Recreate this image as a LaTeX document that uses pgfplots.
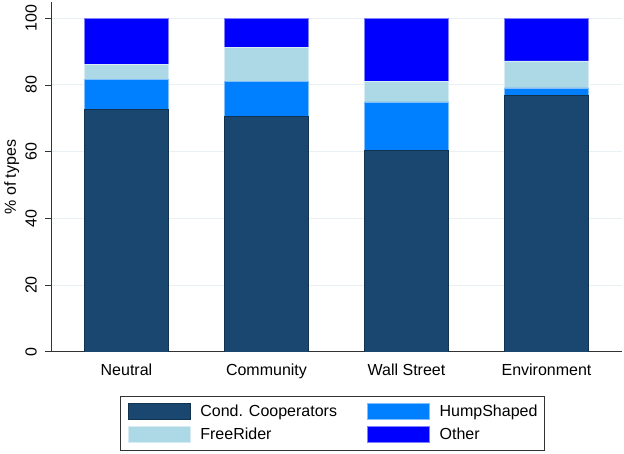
\documentclass[border=0pt]{standalone}
\usepackage{fontspec}
\setmainfont{Liberation Sans}
\usepackage{pgfplots}
\pgfplotsset{compat=1.18}
\definecolor{ccoop}{HTML}{1A476F}
\definecolor{hump}{HTML}{0080FF}
\definecolor{free}{HTML}{ADD8E6}
\definecolor{other}{HTML}{0000FF}
\definecolor{gridc}{HTML}{E9F0F3}
\definecolor{axc}{HTML}{333333}
\pgfplotsset{mylegend/.style={legend image code/.code={\draw[##1,line width=0.6pt] (0pt,-8pt) rectangle (62pt,8pt);}}}
\begin{document}
\begin{tikzpicture}
\useasboundingbox (0,0) rectangle (624pt,453pt);
\begin{axis}[
 at={(51pt,101.2pt)}, anchor=south west,
 scale only axis, width=570.7pt, height=349.3pt,
 ybar stacked, bar width=84.4pt,
 xmin=-0.539, xmax=3.537, ymin=0, ymax=104.7,
 axis lines=left, axis line style={-, axc, line width=0.8pt},
 xtick={0,1,2,3}, xticklabels={Neutral,Community,Wall Street,Environment},
 ytick={0,20,40,60,80,100},
 major x tick style={draw=none},
 major tick length=6pt, tick align=outside,
 y tick style={axc, line width=0.8pt},
 ymajorgrids, grid style={gridc, line width=0.9pt},
 /pgf/number format/assume math mode=true,
 tick label style={font=\fontsize{16}{19}\selectfont, inner sep=0pt},
 xticklabel style={anchor=north, yshift=-6pt},
 yticklabel style={rotate=90, anchor=base, yshift=8.3pt},
 ylabel={\fontsize{16}{19}\selectfont\% of types},
 ylabel style={at={(axis description cs:0,0.5)}, anchor=base, inner sep=0pt, yshift=35pt},
 legend style={
   at={(axis description cs:0.4935,-0.2038)}, anchor=center,
   draw=axc, line width=0.8pt,
   font=\fontsize{16}{19}\selectfont,
   inner xsep=7pt, inner ysep=7pt,
   row sep=6.7pt,
   /tikz/every odd column/.append style={column sep=10pt},
   /tikz/every even column/.append style={column sep=30pt},
   nodes={inner sep=0pt},
 },
 legend columns=2, legend cell align=left,
]
\addplot[fill=ccoop, draw=ccoop!70!black, line width=0.6pt, mylegend] coordinates {(0,72.6) (1,70.6) (2,60.3) (3,76.9)};
\addplot[fill=hump, draw=hump!50!white, line width=0.6pt, mylegend] coordinates {(0,9.1) (1,10.5) (2,14.6) (3,2.2)};
\addplot[fill=free, draw=free!50!white, line width=0.6pt, mylegend] coordinates {(0,4.5) (1,10.2) (2,6.1) (3,8.1)};
\addplot[fill=other, draw=other!50!white, line width=0.6pt, mylegend] coordinates {(0,13.8) (1,8.7) (2,19.0) (3,12.8)};
\legend{Cond. Cooperators, HumpShaped, FreeRider, Other}
\end{axis}
\end{tikzpicture}
\end{document}
